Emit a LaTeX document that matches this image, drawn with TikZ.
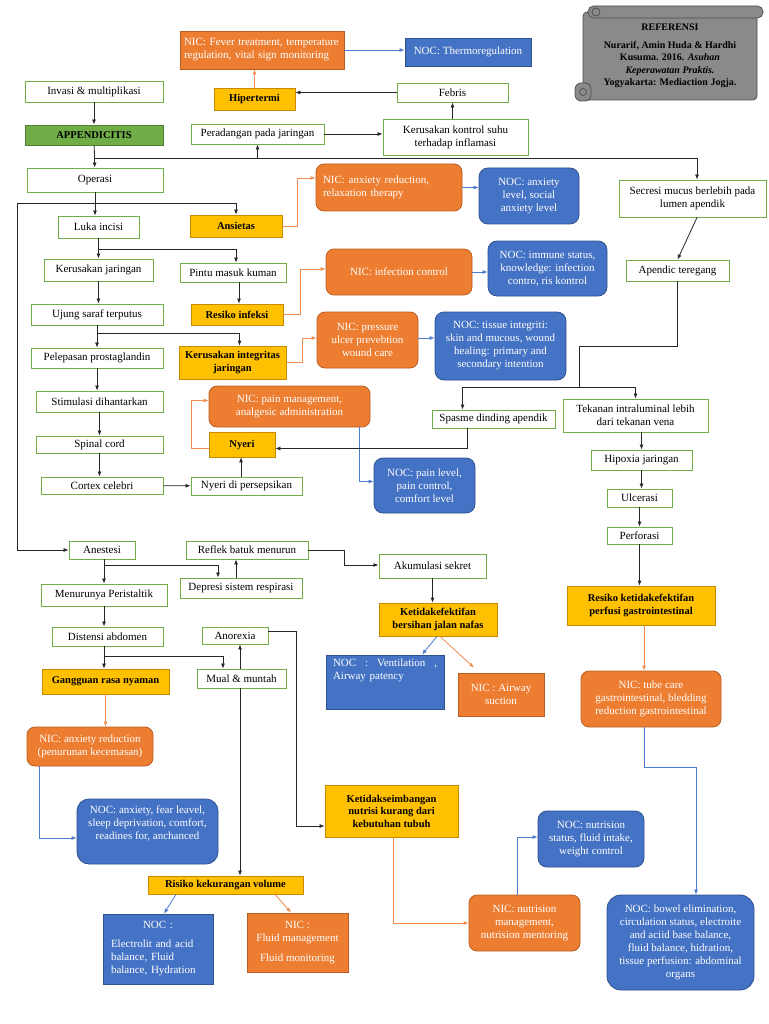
\documentclass[tikz,border=0pt]{standalone}
\usepackage{fontspec}
\setmainfont{Liberation Serif}
\usetikzlibrary{arrows.meta,calc}
\definecolor{gbord}{HTML}{70AD47}
\definecolor{gfill}{HTML}{70AD47}
\definecolor{gdark}{HTML}{507E32}
\definecolor{yfill}{HTML}{FFC000}
\definecolor{ybord}{HTML}{C68A00}
\definecolor{ofill}{HTML}{ED7D31}
\definecolor{obord}{HTML}{B85E22}
\definecolor{bfill}{HTML}{4472C4}
\definecolor{bbord}{HTML}{2F528F}
\definecolor{oline}{HTML}{F28D4E}
\definecolor{bline}{HTML}{4A7BD0}
\definecolor{scr}{HTML}{8A8A8A}
\newcommand{\fN}{\fontsize{11}{13}\selectfont}
\newcommand{\fB}{\fontsize{10.5}{12.5}\selectfont\bfseries}
\newcommand{\bx}[7]{\node[#2,minimum width={(#5-#3)*1pt},minimum height={(#6-#4)*1pt}] (#1) at ({(#3+#5)/2},{(#4+#6)/2}) {#7};}
\tikzset{
  wbox/.style={draw=gbord,line width=0.9pt,fill=white,inner sep=1pt,align=center,font=\fN},
  gbox/.style={draw=gdark,line width=0.9pt,fill=gfill,inner sep=1pt,align=center,font=\fB},
  ybox/.style={draw=ybord,line width=0.8pt,fill=yfill,inner sep=1pt,align=center,font=\fB},
  obox/.style={draw=obord,line width=0.8pt,fill=ofill,text=white,inner sep=1pt,align=center,font=\fN},
  orbox/.style={obox,rounded corners=8pt},
  bbox/.style={draw=bbord,line width=0.8pt,fill=bfill,text=white,inner sep=1pt,align=center,font=\fN},
  brbox/.style={bbox,rounded corners=9pt},
  ln/.style={draw=black!85,line width=0.8pt},
  arr/.style={ln,-{Latex[length=5pt,width=4pt]}},
  oarr/.style={draw=oline,line width=0.8pt,-{Latex[length=5pt,width=4pt]}},
  barr/.style={draw=bline,line width=0.8pt,-{Latex[length=5pt,width=4pt]}}
}
\begin{document}
\begin{tikzpicture}[x=1pt,y=-1pt]
\useasboundingbox (0,0) rectangle (768,1024);
\fill[white] (0,0) rectangle (768,1024);

% reference scroll
\filldraw[fill=scr,draw=black!70,line width=0.7pt,rounded corners=4pt] (583,12) rectangle (757,100);
\filldraw[fill=scr,draw=black!70,line width=0.7pt,rounded corners=5.5pt] (588,6) rectangle (763,18);
\draw[black!70,line width=0.7pt] (596,12) circle (4pt);
\filldraw[fill=scr,draw=black!70,line width=0.7pt,rounded corners=6pt] (575,83) rectangle (591,101);
\draw[black!70,line width=0.7pt] (583,92) circle (3.5pt);
\node[font=\fontsize{10}{12.5}\selectfont\bfseries,align=center,inner sep=0pt] (refs) at (670,56)
 {REFERENSI\\[5pt]Nurarif, Amin Huda \& Hardhi\\Kusuma. 2016. \textit{Asuhan}\\\textit{Keperawatan Praktis.}\\Yogyakarta: Mediaction Jogja.};

% nodes
\bx{nicf}{obox,text width=156pt,align=left}{180}{31}{344}{69}{NIC: Fever treatment, temperature\\regulation, vital sign monitoring}
\bx{noct}{bbox}{405}{38}{531}{66}{NOC: Thermoregulation}
\bx{inv}{wbox}{25}{81}{163}{102}{Invasi \& multiplikasi}
\bx{app}{gbox}{25}{125}{163}{145}{APPENDICITIS}
\bx{hip}{ybox}{214}{88}{295}{110}{Hipertermi}
\bx{feb}{wbox}{397}{83}{508}{102}{Febris}
\bx{per}{wbox}{191}{124}{324}{144}{Peradangan pada jaringan}
\bx{kks}{wbox}{383}{119}{528}{155}{Kerusakan kontrol suhu\\terhadap inflamasi}
\bx{op}{wbox}{27}{168}{163}{192}{Operasi}
\bx{sec}{wbox}{619}{180}{766}{217}{Secresi mucus berlebih pada\\lumen apendik}
\bx{luka}{wbox}{58}{216}{139}{238}{Luka incisi}
\bx{ans}{ybox}{190}{215}{282}{237}{Ansietas}
\bx{nica}{orbox,text width=132pt,align=left}{316}{164}{462}{211}{NIC: anxiety reduction,\\relaxation therapy\\[6pt]}
\bx{noca}{brbox}{479}{168}{579}{224}{NOC: anxiety\\level, social\\anxiety level}
\bx{apt}{wbox}{626}{260}{729}{281}{Apendic teregang}
\bx{kj}{wbox}{44}{259}{153}{281}{Kerusakan jaringan}
\bx{pintu}{wbox}{180}{263}{286}{282}{Pintu masuk kuman}
\bx{ri}{ybox}{191}{304}{283}{325}{Resiko infeksi}
\bx{nici}{orbox}{326}{249}{472}{295}{NIC: infection control}
\bx{noci}{brbox}{488}{241}{607}{296}{NOC: immune status,\\knowledge: infection\\contro, ris kontrol}
\bx{uj}{wbox}{31}{304}{163}{325}{Ujung saraf terputus}
\bx{pel}{wbox}{31}{348}{163}{368}{Pelepasan prostaglandin}
\bx{kij}{ybox}{179}{346}{286}{379}{Kerusakan integritas\\jaringan}
\bx{nicp}{orbox}{317}{312}{418}{368}{NIC: pressure\\ulcer prevebtion\\wound care}
\bx{noctis}{brbox}{435}{312}{566}{380}{NOC: tissue integriti:\\skin and mucous, wound\\healing: primary and\\secondary intention}
\bx{stim}{wbox}{36}{391}{163}{412}{Stimulasi dihantarkan}
\bx{spinal}{wbox}{36}{436}{163}{453}{Spinal cord}
\bx{cortex}{wbox}{41}{477}{163}{494}{Cortex celebri}
\bx{np}{wbox}{191}{477}{302}{495}{Nyeri di persepsikan}
\bx{nyeri}{ybox}{209}{432}{275}{457}{Nyeri}
\bx{nicpain}{orbox}{209}{386}{370}{427}{NIC: pain management,\\analgesic administration}
\bx{nocpain}{brbox}{374}{458}{475}{513}{NOC: pain level,\\pain control,\\comfort level}
\bx{spasme}{wbox}{432}{410}{555}{428}{Spasme dinding apendik}
\bx{tek}{wbox}{563}{399}{708}{432}{Tekanan intraluminal lebih\\dari tekanan vena}
\bx{hipx}{wbox}{591}{450}{692}{470}{Hipoxia jaringan}
\bx{ulc}{wbox}{607}{489}{672}{507}{Ulcerasi}
\bx{perf}{wbox}{607}{527}{672}{544}{Perforasi}
\bx{rpg}{ybox}{567}{586}{715}{625}{Resiko ketidakefektifan\\perfusi gastrointestinal}
\bx{tube}{orbox}{581}{671}{721}{727}{NIC: tube care\\gastrointestinal, bledding\\reduction gastrointestinal}
\bx{bowel}{brbox,rounded corners=14pt}{607}{895}{754}{990}{NOC: bowel elimination,\\circulation status, electroite\\and aciid base balance,\\fluid balance, hidration,\\tissue perfusion: abdominal\\organs}
\bx{anes}{wbox}{69}{541}{135}{559}{Anestesi}
\bx{reflek}{wbox}{186}{541}{308}{559}{Reflek batuk menurun}
\bx{dep}{wbox}{180}{578}{302}{598}{Depresi sistem respirasi}
\bx{men}{wbox}{41}{584}{167}{606}{Menurunya Peristaltik}
\bx{dist}{wbox}{52}{627}{163}{646}{Distensi abdomen}
\bx{gang}{ybox}{42}{669}{169}{694}{Gangguan rasa nyaman}
\bx{anor}{wbox}{202}{627}{268}{644}{Anorexia}
\bx{mual}{wbox}{197}{669}{286}{688}{Mual \& muntah}
\bx{aku}{wbox}{379}{554}{486}{578}{Akumulasi sekret}
\bx{kbj}{ybox}{379}{603}{497}{636}{Ketidakefektifan\\bersihan jalan nafas}
\bx{nocv}{bbox,text width=104pt,align=left}{326}{655}{444}{709}{\makebox[104pt]{NOC\hfill:\hfill Ventilation\hfill,}\\Airway patency\\\mbox{}\\\mbox{}}
\bx{nicaw}{obox}{458}{673}{544}{716}{NIC : Airway\\suction}
\bx{kskd}{ybox}{325}{785}{458}{837}{Ketidakseimbangan\\nutrisi kurang dari\\kebutuhan tubuh}
\bx{nicn}{orbox}{469}{895}{580}{951}{NIC: nutrision\\management,\\nutrision mentoring}
\bx{nocn}{brbox}{538}{811}{644}{867}{NOC: nutrision\\status, fluid intake,\\weight control}
\bx{nicax2}{orbox}{27}{727}{153}{766}{NIC: anxiety reduction\\(penurunan kecemasan)}
\bx{nocax2}{brbox,rounded corners=12pt}{77}{799}{218}{864}{NOC: anxiety, fear leavel,\\sleep deprivation, comfort,\\readines for, anchanced\\[5pt]}
\bx{rkv}{ybox}{148}{876}{303}{894}{Risiko kekurangan volume}
\bx{nocE}{bbox,text width=94pt,align=left}{103}{914}{213}{984}{\makebox[94pt]{NOC :}\\[6pt]Electrolit and acid\\balance, Fluid\\balance, Hydration}
\bx{nicF}{obox}{247}{913}{348}{972}{NIC :\\Fluid management\\[7pt]Fluid monitoring}

% connectors: top
\coordinate (j1) at (95,158);
\draw[arr] (inv) -- (app);
\draw[arr] (app) -- (op);
\draw[arr] (j1) -| ([xshift=4.5pt]sec.north);
\draw[arr] (j1 -| per) -- (per);
\draw[arr] (per.east) -- (per.east -| kks.west);
\draw[arr] (kks.north -| feb.south) -- (feb.south);
\draw[arr] (feb.west) -- (feb.west -| hip.east);
\draw[oarr] (hip.north) -- (hip.north |- nicf.south);
\draw[barr] (nicf.east) -- (nicf.east -| noct.west);

% operasi
\coordinate (j2) at (95,203);
\coordinate (lft) at (17,203);
\draw[arr] (op) -- (op |- luka.north);
\draw[arr] (j2) -| (ans);
\draw[arr] (j2) -- (lft) |- (anes);
\draw[oarr] (ans.east) -- ++(15,0) |- ([yshift=9.5pt]nica.west);
\draw[barr] (nica.east) -- (nica.east -| noca.west);

% luka
\coordinate (j3) at (98,249);
\draw[arr] (luka) -- (luka |- kj.north);
\draw[arr] (j3) -| ([xshift=3pt]pintu.north);
\draw[arr] ([xshift=2pt]ri.north |- pintu.south) -- ([xshift=2pt]ri.north);
\draw[oarr] (ri.east) -- ++(17,0) |- ([yshift=3pt]nici.west);
\draw[barr] (nici.east) -- (nici.east -| noci.west);

% ujung
\coordinate (j4) at (97,333);
\draw[arr] (kj) -- (kj |- uj.north);
\draw[arr] (uj) -- (uj |- pel.north);
\draw[arr] (j4) -| ([xshift=7pt]kij.north);
\draw[oarr] (kij.east) -- ++(16,0) |- ([yshift=2pt]nicp.west);
\draw[barr] ([yshift=2pt]nicp.east) -- ([yshift=2pt]nicp.east -| noctis.west);

% pain chain
\draw[arr] (pel) -- (pel |- stim.north);
\draw[arr] (stim) -- (stim |- spinal.north);
\draw[arr] (spinal) -- (spinal |- cortex.north);
\draw[arr] (cortex) -- (np);
\draw[arr] ([xshift=-1pt]nyeri.south |- np.north) -- ([xshift=-1pt]nyeri.south);
\draw[oarr] ([yshift=-4pt]nyeri.west) -- ++(-17,0) |- ([yshift=6pt]nicpain.west);
\draw[barr] ([xshift=70pt]nicpain.south) |- ([yshift=4pt]nocpain.west);

% spasme / tekanan
\coordinate (k1) at (579,346);
\coordinate (k2) at (579,387);
\draw[arr] ([xshift=-26pt]spasme.south) |- ([yshift=-4pt]nyeri.east);
\draw[ln] (apt) -- (apt |- k1) -- (k1) -- (k2);
\draw[arr] (k2) -| ([xshift=-31pt]spasme.north);
\draw[arr] (k2) -| (tek);
\draw[arr] ([xshift=4.5pt]sec.south) -- (apt.north);

% right chain
\draw[arr] (hipx |- tek.south) -- (hipx);
\draw[arr] (hipx) -- (hipx |- ulc.north);
\draw[arr] (ulc) -- (perf);
\draw[arr] (perf) -- (perf |- rpg.north);
\draw[oarr] ([xshift=3pt]rpg.south) -- ([xshift=3pt]rpg.south |- tube.north);
\draw[barr] ([xshift=-7pt]tube.south) -- ++(0,40) -| ([xshift=15.5pt]bowel.north);

% bottom left
\coordinate (j5) at (104,565);
\coordinate (j6) at (104,656);
\draw[arr] (men |- anes.south) -- (men.north);
\draw[arr] (j5) -| ([xshift=-23pt]dep.north);
\draw[arr] ([xshift=-5pt]dep.north) -- ([xshift=-5pt]dep.north |- reflek.south);
\draw[arr] (reflek.east) -- ++(36,0) |- ([yshift=1pt]aku.west);
\draw[arr] (aku) -- (aku |- kbj.north);
\draw[barr] ([xshift=-1pt]kbj.south) -- ([xshift=37pt]nocv.north);
\draw[oarr] ([xshift=2pt]kbj.south) -- ([xshift=-27pt,yshift=5pt]nicaw.north);
\draw[arr] (men) -- (men |- dist.north);
\draw[arr] (men |- dist.south) -- (men |- gang.north);
\draw[arr] (j6) -| ([xshift=-18.5pt]mual.north);
\draw[arr] ([xshift=-1.5pt]mual.north) -- ([xshift=-1.5pt]mual.north |- anor.south);
\draw[arr] ([xshift=-1.5pt]mual.south) -- ([xshift=-1.5pt]mual.south |- rkv.north);
\draw[arr] ([yshift=4pt]anor.east) -- ++(28,0) |- ([yshift=-15pt]kskd.west);
\draw[oarr] ([xshift=1.5pt]kskd.south) |- (nicn.west);
\draw[barr] ([xshift=-7.5pt]nicn.north) |- ([yshift=2pt]nocn.west);
\draw[oarr] (gang.south) -- (gang.south |- nicax2.north);
\draw[barr] ([xshift=-51pt]nicax2.south) |- ([yshift=-6.5pt]nocax2.west);
\draw[barr] ([xshift=-49.5pt]rkv.south) -- ([xshift=6pt]nocE.north);
\draw[oarr] ([xshift=49.5pt]rkv.south) -- ([xshift=-6.5pt]nicF.north);
\end{tikzpicture}
\end{document}
